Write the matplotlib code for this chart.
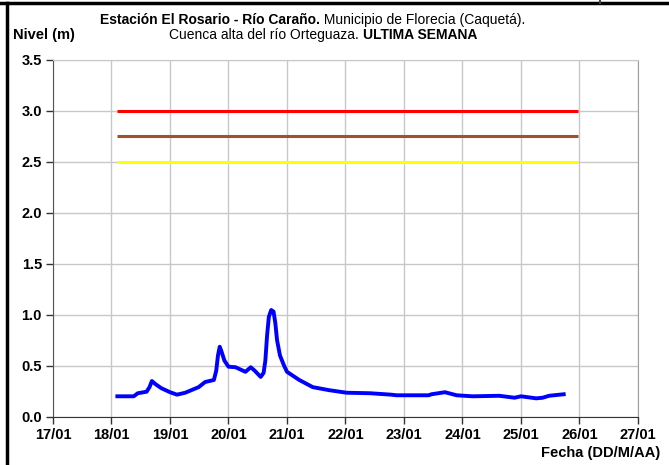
import matplotlib
matplotlib.use("Agg")
import matplotlib.pyplot as plt
from matplotlib.lines import Line2D

plt.rcParams['font.family'] = ['Liberation Sans', 'DejaVu Sans']

# days of January (fractional) and level in m
dias = [18.10, 18.25, 18.38, 18.45, 18.60, 18.65, 18.69, 18.75, 18.85, 19.00, 19.12,
        19.26, 19.49, 19.60, 19.75, 19.79, 19.82, 19.85, 19.88, 19.93, 20.00, 20.12,
        20.29, 20.38, 20.45, 20.55, 20.60, 20.63, 20.66, 20.69, 20.73, 20.77, 20.80,
        20.83, 20.88, 20.95, 21.00, 21.21, 21.44, 21.72,
        22.02, 22.42, 22.78, 22.87, 23.42, 23.47, 23.70, 23.90, 24.17, 24.63, 24.89,
        25.00, 25.26, 25.37, 25.48, 25.73]
nivel = [0.20, 0.20, 0.20, 0.23, 0.245, 0.29, 0.35, 0.32, 0.28, 0.24, 0.216,
         0.235, 0.29, 0.34, 0.36, 0.45, 0.60, 0.686, 0.64, 0.55, 0.49, 0.485,
         0.44, 0.485, 0.45, 0.39, 0.43, 0.55, 0.80, 0.98, 1.046, 1.03, 0.92,
         0.75, 0.60, 0.50, 0.44, 0.36, 0.29, 0.26,
         0.235, 0.23, 0.216, 0.21, 0.21, 0.22, 0.24, 0.21, 0.20, 0.205, 0.186,
         0.20, 0.18, 0.186, 0.205, 0.22]

umbrales = [3.0, 2.75, 2.5]
colores_umbral = ['#FF0000', '#A0522D', '#FFFF00']
umbral_ini, umbral_fin = 18.10, 25.97

x_ticks = list(range(17, 28))
x_labels = [f"{d}/01" for d in x_ticks]
y_ticks = [0.0, 0.5, 1.0, 1.5, 2.0, 2.5, 3.0, 3.5]

fig = plt.figure(figsize=(6.69, 4.65), dpi=100)
ax = fig.add_axes([53 / 669, 1 - 416.7 / 465, 585 / 669, 357 / 465])

for u, c in zip(umbrales, colores_umbral):
    ax.plot([umbral_ini, umbral_fin], [u, u], color=c, lw=2.2, solid_capstyle='butt', zorder=3)
ax.plot(dias, nivel, color='#0000FF', lw=2.8, zorder=4)

ax.set_xlim(17, 27)
ax.set_ylim(0, 3.5)
ax.set_xticks(x_ticks)
ax.set_xticklabels(x_labels)
ax.set_yticks(y_ticks)
ax.set_yticklabels([f"{v:.1f}" for v in y_ticks])
ax.grid(True, color='#C8C8C8', lw=1)
ax.set_axisbelow(True)
for lbl in ax.get_xticklabels() + ax.get_yticklabels():
    lbl.set_fontweight('bold')
    lbl.set_fontsize(10.5)
ax.tick_params(axis='both', direction='out', length=5, width=1, color='#333333', pad=3)
ax.spines['bottom'].set_color('#333333')
ax.spines['left'].set_color('#555555')
ax.spines['right'].set_color('#A0A0A0')
ax.spines['top'].set_color('#C8C8C8')

fig.text(13 / 669, 1 - 35 / 465, "Nivel (m)", fontsize=10.5, fontweight='bold', va='center', ha='left')
fig.text(660 / 669, 1 - 453 / 465, "Fecha (DD/M/AA)", fontsize=10.5, fontweight='bold', va='center', ha='right')

# titulo con partes en negrita y normales
renderer = fig.canvas.get_renderer()


def linea_mixta(partes, y_px, centro_px, size=10):
    textos = []
    for s, w in partes:
        textos.append(fig.text(0, 1 - y_px / 465, s, fontsize=size, fontweight=w, va='center', ha='left'))
    anchos = [t.get_window_extent(renderer).width for t in textos]
    x = centro_px - sum(anchos) / 2
    for t, a in zip(textos, anchos):
        t.set_x(x / 669)
        x += a


linea_mixta([("Estación El Rosario - Río Caraño.", 'bold'),
             (" Municipio de Florecia (Caquetá).", 'normal')], 20, 313)
linea_mixta([("Cuenca alta del río Orteguaza. ", 'normal'),
             ("ULTIMA SEMANA", 'bold')], 35, 323)

# marco negro
fig.add_artist(Line2D([0, 1], [1 - 3.5 / 465] * 2, color='black', lw=2.5, transform=fig.transFigure))
fig.add_artist(Line2D([7 / 669] * 2, [0, 1 - 3.5 / 465], color='black', lw=2.5, transform=fig.transFigure))
fig.add_artist(Line2D([600 / 669] * 2, [1 - 3.5 / 465, 1], color='#444444', lw=1.5, transform=fig.transFigure))

fig.savefig("out.png", dpi=100)
